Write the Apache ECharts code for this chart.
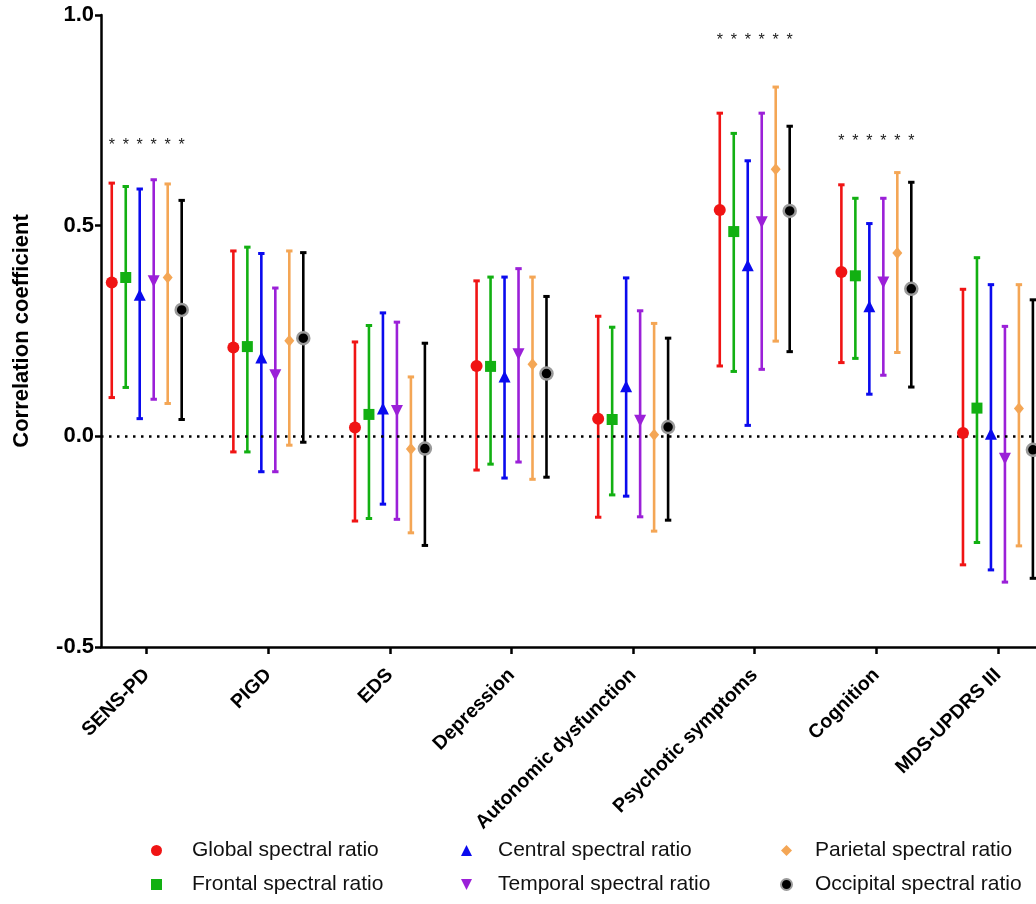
<!DOCTYPE html>
<html>
<head>
<meta charset="utf-8">
<script src="https://cdn.jsdelivr.net/npm/echarts@6/dist/echarts.min.js"></script>
<style>
  html, body { margin: 0; padding: 0; background: #fff; }
  #chart { width: 1036px; height: 904px; }
</style>
</head>
<body>
<div id="chart"></div>
<script>
// ---------------- DATA ----------------
const categories = ['SENS-PD', 'PIGD', 'EDS', 'Depression', 'Autonomic dysfunction', 'Psychotic symptoms', 'Cognition', 'MDS-UPDRS III'];
const yTicks = [-0.5, 0.0, 0.5, 1.0];

const seriesNames = ['Global spectral ratio', 'Frontal spectral ratio', 'Central spectral ratio', 'Temporal spectral ratio', 'Parietal spectral ratio', 'Occipital spectral ratio'];

const globalVal  = [0.365, 0.211, 0.021, 0.167, 0.042, 0.537, 0.390, 0.008];
const globalLow  = [0.092, -0.037, -0.201, -0.080, -0.192, 0.167, 0.175, -0.305];
const globalHigh = [0.601, 0.440, 0.224, 0.369, 0.285, 0.767, 0.597, 0.349];

const frontalVal  = [0.377, 0.213, 0.052, 0.166, 0.040, 0.486, 0.381, 0.067];
const frontalLow  = [0.116, -0.037, -0.195, -0.066, -0.139, 0.154, 0.185, -0.252];
const frontalHigh = [0.593, 0.449, 0.263, 0.378, 0.259, 0.719, 0.565, 0.424];

const centralVal  = [0.336, 0.187, 0.066, 0.142, 0.119, 0.406, 0.309, 0.006];
const centralLow  = [0.042, -0.084, -0.161, -0.099, -0.142, 0.026, 0.100, -0.317];
const centralHigh = [0.587, 0.434, 0.293, 0.378, 0.376, 0.654, 0.505, 0.360];

const temporalVal  = [0.368, 0.145, 0.060, 0.195, 0.037, 0.508, 0.365, -0.053];
const temporalLow  = [0.088, -0.084, -0.197, -0.061, -0.191, 0.159, 0.145, -0.346];
const temporalHigh = [0.609, 0.352, 0.271, 0.398, 0.298, 0.767, 0.565, 0.261];

const parietalVal  = [0.377, 0.227, -0.030, 0.171, 0.004, 0.634, 0.435, 0.066];
const parietalLow  = [0.078, -0.021, -0.229, -0.102, -0.225, 0.226, 0.199, -0.260];
const parietalHigh = [0.599, 0.440, 0.141, 0.378, 0.268, 0.829, 0.626, 0.360];

const occipitalVal  = [0.300, 0.233, -0.029, 0.149, 0.022, 0.535, 0.350, -0.032];
const occipitalLow  = [0.040, -0.014, -0.259, -0.097, -0.199, 0.201, 0.117, -0.337];
const occipitalHigh = [0.560, 0.436, 0.221, 0.332, 0.233, 0.736, 0.603, 0.324];

// significance asterisks height per category (null = none)
const starLevel = [0.700, null, null, null, null, 0.948, 0.710, null];

// ---------------- STYLE ----------------
const FONT = '"Liberation Sans", Arial, sans-serif';
const colors = ['#f01414', '#12b012', '#0a0aee', '#9b20d8', '#f4a655', '#000000'];
const symbols = ['circle', 'rect', 'triangle', 'path://M0,0 L10,0 L5,10 Z', 'diamond', 'circle'];
const symbolSizes = [12, 11, 12, 12, [10, 12], 12];
const vals = [globalVal, frontalVal, centralVal, temporalVal, parietalVal, occipitalVal];
const lows = [globalLow, frontalLow, centralLow, temporalLow, parietalLow, occipitalLow];
const highs = [globalHigh, frontalHigh, centralHigh, temporalHigh, parietalHigh, occipitalHigh];
const groupStep = 0.115; // offset between series within a category (axis units)

function offsetOf(i) { return (i - 2.5) * groupStep; }

const series = [];
seriesNames.forEach((name, i) => {
  const color = colors[i];
  series.push({
    name: name + ' CI',
    type: 'custom',
    z: 2,
    silent: true,
    encode: { x: 0, y: [1, 2] },
    data: categories.map((c, k) => [k + offsetOf(i), lows[i][k], highs[i][k]]),
    renderItem: function (params, api) {
      const x = api.value(0);
      const pLo = api.coord([x, api.value(1)]);
      const pHi = api.coord([x, api.value(2)]);
      const cw = 3.2;
      const st = { stroke: color, lineWidth: 2.6 };
      const cs = { stroke: color, lineWidth: 3 };
      return {
        type: 'group',
        children: [
          { type: 'line', shape: { x1: pLo[0], y1: pLo[1], x2: pHi[0], y2: pHi[1] }, style: st },
          { type: 'line', shape: { x1: pHi[0] - cw, y1: pHi[1], x2: pHi[0] + cw, y2: pHi[1] }, style: cs },
          { type: 'line', shape: { x1: pLo[0] - cw, y1: pLo[1], x2: pLo[0] + cw, y2: pLo[1] }, style: cs }
        ]
      };
    }
  });
});
seriesNames.forEach((name, i) => {
  const isOcc = i === 5;
  const s = {
    name: name,
    type: 'scatter',
    z: 5,
    symbol: symbols[i],
    symbolSize: symbolSizes[i],
    itemStyle: isOcc
      ? { color: '#000', borderColor: '#9a9a9a', borderWidth: 2.5, opacity: 1 }
      : { color: colors[i], opacity: 1 },
    data: categories.map((c, k) => [k + offsetOf(i), vals[i][k]])
  };
  if (i === 0) {
    s.markLine = {
      silent: true,
      symbol: 'none',
      label: { show: false },
      lineStyle: { color: '#000', type: [2.5, 5.5], width: 2.5 },
      data: [{ yAxis: 0 }],
      animation: false
    };
  }
  series.push(s);
});
// asterisks
const starData = [];
starLevel.forEach((lvl, k) => {
  if (lvl === null) return;
  for (let i = 0; i < 6; i++) starData.push([k + offsetOf(i), lvl]);
});
series.push({
  name: 'stars',
  type: 'custom',
  silent: true,
  z: 6,
  encode: { x: 0, y: 1 },
  data: starData,
  renderItem: function (params, api) {
    const p = api.coord([api.value(0), api.value(1)]);
    return {
      type: 'text',
      x: p[0],
      y: p[1] + 4,
      style: {
        text: '*',
        fill: '#1a1a1a',
        font: '16px ' + FONT,
        align: 'center',
        verticalAlign: 'middle'
      }
    };
  }
});

function legendBlock(names, left, pad) {
  return {
    data: names,
    orient: 'vertical',
    left: left,
    top: 840,
    padding: 0,
    itemWidth: 11,
    itemHeight: 11,
    itemGap: 13,
    selectedMode: false,
    formatter: function (n) { return '{t|' + n + '}'; },
    textStyle: {
      rich: {
        t: { fontFamily: FONT, fontSize: 21, color: '#111', padding: [0, 0, 0, pad], lineHeight: 23 }
      }
    }
  };
}

const option = {
  backgroundColor: '#fff',
  animation: false,
  grid: { left: 101, right: 0, top: 15, bottom: 257, containLabel: false },
  legend: [
    legendBlock([seriesNames[0], seriesNames[1]], 151, 25),
    legendBlock([seriesNames[2], seriesNames[3]], 461, 21),
    legendBlock([seriesNames[4], seriesNames[5]], 780, 18)
  ],
  xAxis: {
    type: 'value',
    min: -0.376,
    max: 7.313,
    splitLine: { show: false },
    axisLine: { show: true, onZero: false, lineStyle: { color: '#000', width: 2.5 } },
    axisTick: {
      show: true,
      customValues: categories.map((c, k) => k),
      length: 7,
      lineStyle: { color: '#000', width: 2.5 }
    },
    axisLabel: {
      customValues: categories.map((c, k) => k),
      formatter: function (v) { return categories[Math.round(v)]; },
      rotate: 45,
      margin: 25,
      fontFamily: FONT,
      fontWeight: 'bold',
      fontSize: 19.5,
      color: '#000'
    }
  },
  yAxis: {
    type: 'value',
    min: -0.5,
    max: 1.0,
    interval: 0.5,
    name: 'Correlation coefficient',
    nameLocation: 'middle',
    nameGap: 68,
    nameTextStyle: { fontFamily: FONT, fontWeight: 'bold', fontSize: 22, color: '#000' },
    splitLine: { show: false },
    axisLine: { show: true, onZero: false, lineStyle: { color: '#000', width: 2.5 } },
    axisTick: { show: true, length: 6, lineStyle: { color: '#000', width: 2.5 } },
    axisLabel: {
      formatter: function (v) { return v.toFixed(1); },
      margin: 7,
      fontFamily: FONT,
      fontWeight: 'bold',
      fontSize: 22,
      color: '#000'
    }
  },
  series: series
};

const chart = echarts.init(document.getElementById('chart'), null, { renderer: 'canvas' });
chart.setOption(option);
</script>
</body>
</html>
